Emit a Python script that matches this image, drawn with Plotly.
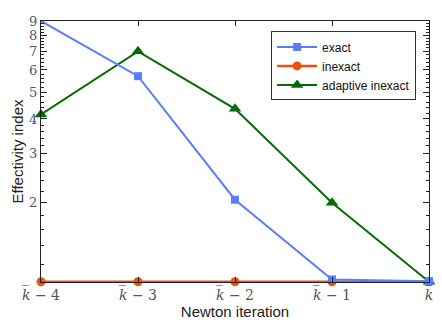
import plotly.graph_objects as go

categories = ["k-4", "k-3", "k-2", "k-1", "k"]
tick_labels = ["<i>k̅</i> − 4", "<i>k̅</i> − 3", "<i>k̅</i> − 2", "<i>k̅</i> − 1", "<i>k̅</i>"]
exact = [9.0, 5.7, 2.05, 1.06, 1.045]
inexact = [1.04, 1.04, 1.04, 1.04, 1.04]
adaptive = [4.15, 7.0, 4.35, 2.0, 1.04]

x = list(range(len(categories)))

fig = go.Figure()
fig.add_trace(go.Scatter(x=x, y=inexact, name="inexact", mode="lines+markers",
                         line=dict(color="#f0500f", width=2.5),
                         marker=dict(symbol="circle", size=9, color="#f0500f"),
                         cliponaxis=False, legendrank=2))
fig.add_trace(go.Scatter(x=x, y=adaptive, name="adaptive inexact", mode="lines+markers",
                         line=dict(color="#046c04", width=2),
                         marker=dict(symbol="triangle-up", size=11, color="#046c04"),
                         cliponaxis=False, legendrank=3))
fig.add_trace(go.Scatter(x=x, y=exact, name="exact", mode="lines+markers",
                         line=dict(color="#5a7dfb", width=2),
                         marker=dict(symbol="square", size=8, color="#5a7dfb"),
                         cliponaxis=False, legendrank=1))

major = [2, 3, 4, 5, 6, 7, 8, 9]
minor_vals = [round(1 + 0.2 * i, 1) for i in range(1, 41)]
minor_vals = [v for v in minor_vals if abs(v - round(v)) > 1e-6 and v < 9]

fig.update_layout(
    width=442, height=328,
    margin=dict(l=41, r=9, t=21, b=46),
    paper_bgcolor="white", plot_bgcolor="white",
    showlegend=True,
    legend=dict(x=0.593, y=0.96, xanchor="left", yanchor="top",
                bgcolor="white", bordercolor="#333", borderwidth=1,
                font=dict(family="Liberation Sans, Arial", size=12, color="#111"),
                traceorder="normal", itemwidth=40, tracegroupgap=0),
    font=dict(family="Liberation Sans, Arial", size=14, color="#222"),
)
fig.update_xaxes(
    range=[0, 4], tickvals=x, ticktext=tick_labels,
    showgrid=False, zeroline=False,
    showline=True, linecolor="#222", linewidth=1, mirror="ticks",
    ticks="inside", ticklen=5, tickcolor="#222",
    tickfont=dict(family="DejaVu Serif", size=14, color="#555"),
    title=dict(text="Newton iteration", standoff=2,
               font=dict(family="Liberation Sans, Arial", size=15, color="#222")),
)
fig.update_yaxes(
    type="log", range=[0.0160, 0.9542],
    tickvals=major, ticktext=[str(v) for v in major],
    showgrid=False, zeroline=False,
    showline=True, linecolor="#222", linewidth=1, mirror="ticks",
    ticks="inside", ticklen=6, tickcolor="#222",
    minor=dict(tickmode="array", tickvals=minor_vals, ticks="inside", ticklen=3, tickcolor="#222", showgrid=False),
    tickfont=dict(family="DejaVu Serif", size=13, color="#555"),
    title=dict(text="Effectivity index", standoff=1,
               font=dict(family="Liberation Sans, Arial", size=15, color="#222")),
)

fig.write_html("out.html")
